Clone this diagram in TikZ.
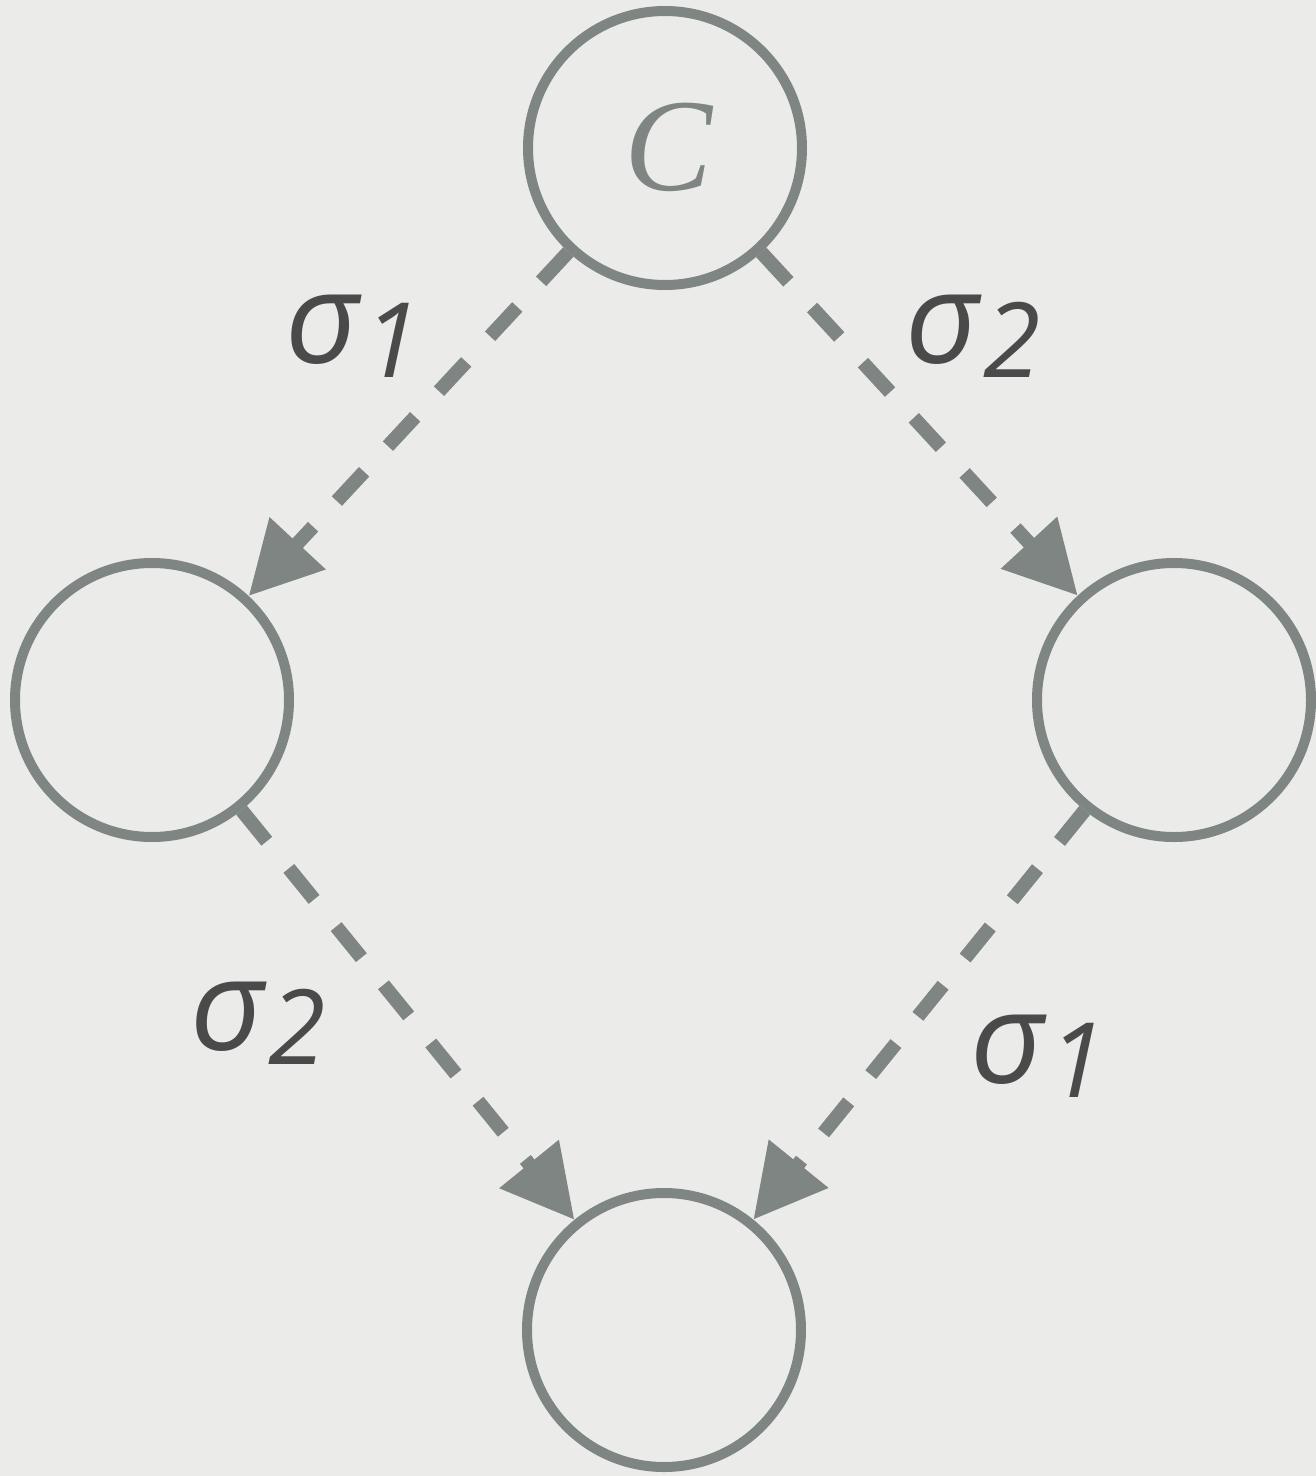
\documentclass[tikz,border=0pt]{standalone}
\usepackage{fontspec}
\usetikzlibrary{arrows.meta}
\newfontfamily\sigfont{Open Sans}
\newfontfamily\cfont{Liberation Serif}
\definecolor{bgc}{RGB}{235,235,234}
\definecolor{linec}{RGB}{127,133,131}
\definecolor{labc}{RGB}{74,74,74}
\newcommand\siglab[1]{{\sigfont\itshape\fontsize{128}{128}\selectfont σ\kern4pt\raisebox{-14pt}{\fontsize{104}{104}\selectfont #1}}}
\tikzset{
  state/.style={circle, draw=linec, line width=10pt, minimum size=274pt, inner sep=0pt},
  arr/.style={draw=linec, line width=14pt, dash pattern=on 40pt off 35pt, -{Triangle[length=72pt,width=73pt]}},
  lab/.style={text=labc, anchor=base west, inner sep=0pt},
}
\begin{document}
\begin{tikzpicture}[x=1pt,y=-1pt]
\fill[bgc] (0,0) rectangle (1316,1476);
\useasboundingbox (0,0) rectangle (1316,1476);
\node[state] (top) at (665,148) {};
\node[text=linec, font=\cfont\itshape\fontsize{132}{132}\selectfont] (c) at (669,147) {C};
\node[state] (left) at (152,700) {};
\node[state] (right) at (1174,700) {};
\node[state] (bot) at (664,1330) {};
\draw[arr] (top) -- (left);
\draw[arr] (top) -- (right);
\draw[arr] (left) -- (bot);
\draw[arr] (right) -- (bot);
\node[lab] (l1) at (285,363) {\siglab{1}};
\node[lab] (l2) at (905,363) {\siglab{2}};
\node[lab] (l3) at (190,1050) {\siglab{2}};
\node[lab] (l4) at (970,1083) {\siglab{1}};
\end{tikzpicture}
\end{document}
